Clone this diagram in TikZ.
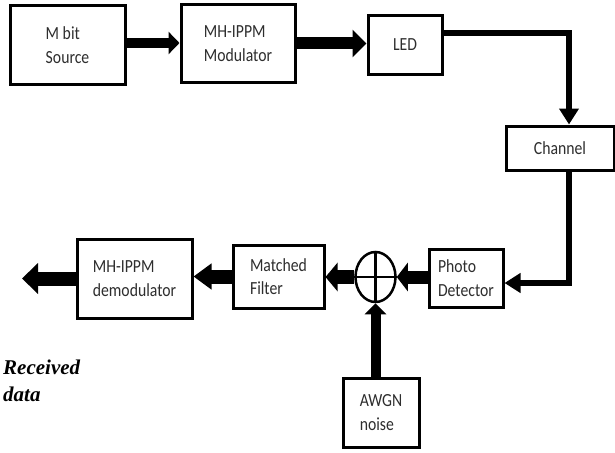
\documentclass[tikz,border=0pt]{standalone}
\usepackage{fontspec}
\setmainfont{Carlito}
\newfontfamily\boxfont[FakeStretch=0.85]{Carlito}
\newfontfamily\serifbi{Liberation Serif}
\usetikzlibrary{arrows.meta,shapes.geometric}
\begin{document}
\begin{tikzpicture}[x=1pt,y=-1pt,
 box/.style={draw, line width=3pt, fill=white, align=left, inner sep=0pt,
   font=\boxfont\fontsize{18.5}{23.5}\selectfont, text=black!82},
 fat/.style={line width=#1, line join=miter},
 elbowline/.style={line width=6pt, line join=miter, -{Triangle[length=16pt,width=19pt]}}
]
\useasboundingbox[fill=white] (0,0) rectangle (615,452);
% boxes
\node[box, minimum width=115pt, minimum height=78pt] (src) at (67.5,45) {M bit\\Source};
\node[box, minimum width=114pt, minimum height=77pt] (mod) at (238,43.5) {MH-IPPM\\Modulator};
\node[box, minimum width=74pt, minimum height=58pt] (led) at (405,45) {LED};
\node[box, minimum width=108pt, minimum height=44pt] (chan) at (560,148) {Channel};
\node[box, minimum width=74pt, minimum height=58pt] (pd) at (466,278) {Photo\\Detector};
\node[draw, ellipse, line width=2.5pt, inner sep=0pt, minimum width=40pt, minimum height=50pt] (sum) at (375.5,277) {};
\draw[line width=2.5pt] (sum.north) -- (sum.south);
\draw[line width=2.5pt] (sum.west) -- (sum.east);
\node[box, minimum width=91pt, minimum height=63pt] (mf) at (278.5,276.5) {Matched\\Filter};
\node[box, minimum width=115pt, minimum height=79pt] (demod) at (134.5,278.5) {MH-IPPM\\demodulator};
\node[box, minimum width=76pt, minimum height=69pt] (awgn) at (381,412.5) {AWGN\\noise};
\node[anchor=north west, inner sep=0pt, align=left,
  font=\serifbi\bfseries\itshape\fontsize{21}{27}\selectfont] (rx) at (3,360) {Received\\data};
% connectors
\coordinate (out) at (22,278.5);
\coordinate (chanin) at ([xshift=9pt]chan.north);
\coordinate (chanout) at ([xshift=9pt]chan.south);
\draw[fat=10pt, -{Triangle[length=11pt,width=22pt]}] ([yshift=2pt]src.east) -- ([yshift=2pt]src.east -| mod.west);
\draw[fat=12pt, -{Triangle[length=14pt,width=27pt]}] (mod.east) -- (mod.east -| led.west);
\draw[elbowline] ([yshift=12pt]led.east) -| (chanin);
\draw[elbowline] (chanout) |- ([yshift=-5pt]pd.east);
\draw[fat=13pt, -{Triangle[length=11pt,width=28pt]}] (pd.west |- sum.east) -- (sum.east);
\draw[fat=14pt, -{Triangle[length=12pt,width=28pt]}] (sum.west) -- (sum.west -| mf.east);
\draw[fat=14pt, -{Triangle[length=18pt,width=25pt]}] (mf.west) -- (mf.west -| demod.east);
\draw[fat=14pt, -{Triangle[length=16pt,width=30pt]}] (demod.west) -- (out);
\draw[fat=10pt, -{Triangle[length=11pt,width=21pt]}] (awgn.north -| sum.south) -- (sum.south);
\end{tikzpicture}
\end{document}
